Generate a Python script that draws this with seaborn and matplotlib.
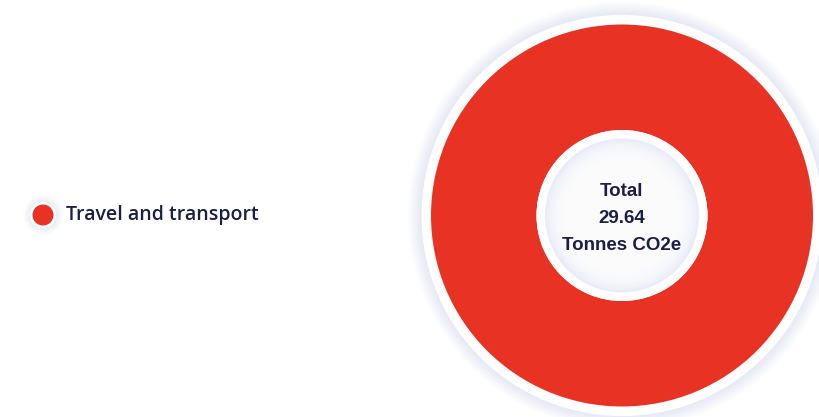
import numpy as np
import matplotlib
matplotlib.use("Agg")
import matplotlib.pyplot as plt
from matplotlib.patches import Circle
import seaborn as sns

categories = ["Travel and transport"]
values = [29.64]
colors = ["#E83324"]
center_lines = ["Total", "29.64", "Tonnes CO2e"]

sns.set_theme(style="white")
plt.rcParams['font.family'] = ['Liberation Sans', 'DejaVu Sans']

W, H = 820, 417
fig = plt.figure(figsize=(W / 100, H / 100), dpi=100)
fig.patch.set_facecolor("white")

# pie axes: center (622, 215.5 from top), radius 191 px
R = 191.0
cx, cy = 622, H - 215.5
half = 1.12 * R
ax = fig.add_axes([(cx - half) / W, (cy - half) / H, 2 * half / W, 2 * half / H])

shadow = "#D3D9EE"
# outer glow
for r in np.linspace(1.12, 1.05, 12):
    ax.add_patch(Circle((0, 0), r, color=shadow, alpha=0.05, lw=0, zorder=0))
ax.add_patch(Circle((0, 0), 1.05, color="white", lw=0, zorder=1))

inner = 85.5 / R
ax.pie(values, colors=colors, radius=1.0, startangle=90, counterclock=False,
       wedgeprops=dict(width=1 - inner, linewidth=0, edgecolor="none"))
for w in ax.patches[-len(values):]:
    w.set_zorder(2)

# inner hole with soft inset shading
ax.add_patch(Circle((0, 0), inner, color="white", lw=0, zorder=3))
r_in = 77 / R
for i, r in enumerate(np.linspace(r_in, r_in * 0.55, 16)):
    ax.add_patch(Circle((0, 0), r, color="#E9ECF7" if i == 0 else "white",
                        alpha=1.0 if i == 0 else 0.22, lw=0, zorder=4 + i))

ys = [24 / R, -3 / R, -30 / R]
for t, y in zip(center_lines, ys):
    ax.text(0, y, t, ha="center", va="center", fontsize=13.5, fontweight="bold",
            color="#1C1F45", zorder=30)

ax.set_xlim(-1.12, 1.12)
ax.set_ylim(-1.12, 1.12)
ax.set_aspect("equal")
ax.axis("off")

# legend
lax = fig.add_axes([0, 0, 1, 1])
lax.set_xlim(0, W)
lax.set_ylim(H, 0)
lax.axis("off")
lx, ly = 43, 215
for r in np.linspace(20, 13, 10):
    lax.add_patch(Circle((lx, ly), r, color=shadow, alpha=0.05, lw=0))
lax.add_patch(Circle((lx, ly), 13, color="white", lw=0))
lax.add_patch(Circle((lx, ly), 10.5, color=colors[0], lw=0))
lax.text(66, ly, categories[0], ha="left", va="center", fontsize=14,
         color="#1C1F45", family=["Open Sans", "DejaVu Sans"], fontweight="semibold")

fig.savefig("out.png", dpi=100, facecolor="white")
